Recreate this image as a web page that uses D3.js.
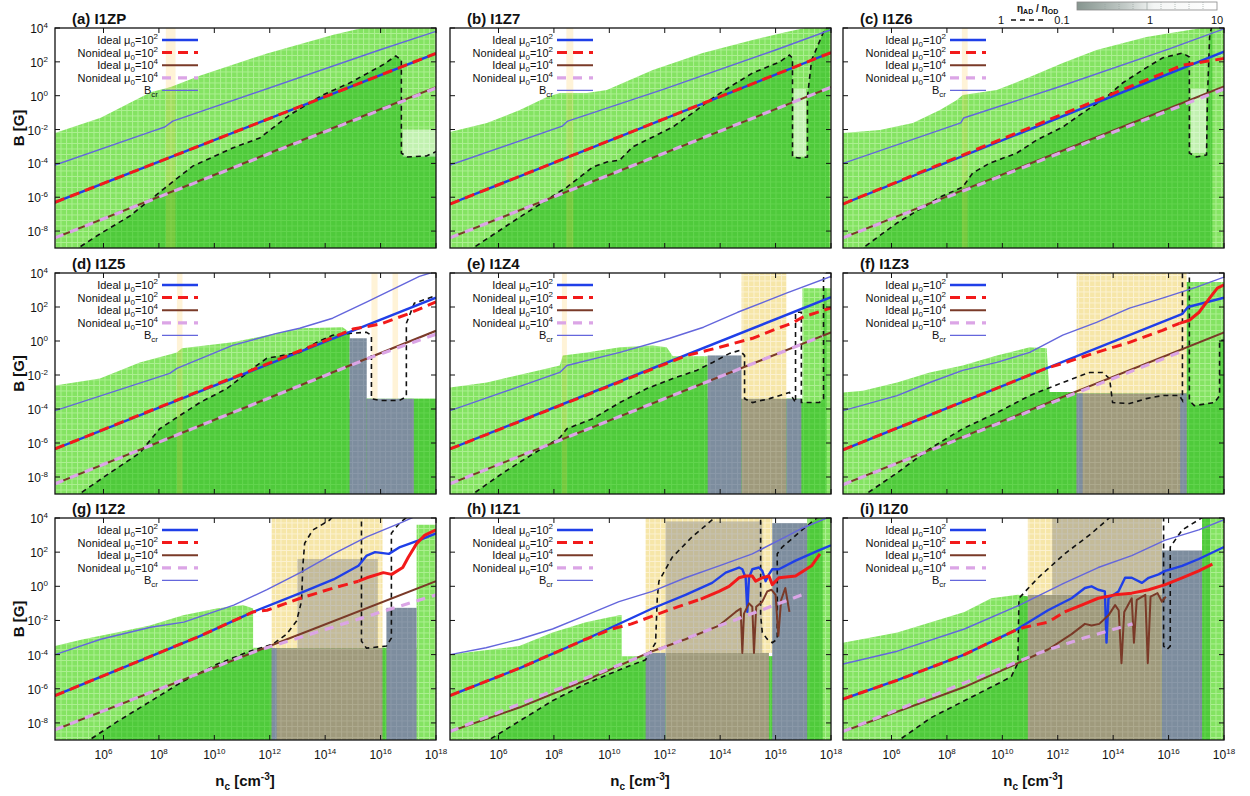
<!DOCTYPE html>
<html><head><meta charset="utf-8">
<script src="https://cdn.jsdelivr.net/npm/d3@7"></script>
<style>body{margin:0;background:#fff;} svg{display:block;font-family:"Liberation Sans",Arial,Helvetica,sans-serif;}</style>
</head><body><svg id="chart" width="1250" height="796"></svg>
<script>
// ---------------- DATA (log10 n_c, log10 B) ----------------
const panelTitles = ["(a) I1ZP","(b) I1Z7","(c) I1Z6","(d) I1Z5","(e) I1Z4","(f) I1Z3","(g) I1Z2","(h) I1Z1","(i) I1Z0"];
const xTickExps = [6,8,10,12,14,16,18];
const yTickExps = [4,2,0,-2,-4,-6,-8];
const logNDomain = [4.25, 18];
const logBDomain = [-9, 4];
const legendNames = ["Ideal","Nonideal","Ideal","Nonideal","B"];
const legendMuExp = ["2","2","4","4",""];
const colorbarTicks = ["0.1","1","10"];

// upper edge of the light-green (computed) region
const greenTop = [
 [[4.25,-2.2],[5.9,-1.3],[7.7,0.2],[8.4,0.5],[9.5,1.2],[11.9,2.5],[14.3,3.6],[15.6,4.1],[18,4.1]],
 [[4.25,-2.15],[5.58,-1.61],[6.77,-0.85],[7.75,-0.08],[8.21,0.16],[9.19,0.16],[9.91,0.34],[11.57,1.52],[13.37,2.52],[15.17,3.29],[16.39,3.76],[17.33,4.1],[18,4.1]],
 [[4.25,-2.21],[5.58,-2.03],[6.77,-1.61],[7.75,-0.85],[8.36,-0.26],[8.57,0.04],[9.8,0.34],[10.99,1.1],[12.18,1.93],[13.4,2.7],[15.2,3.47],[16.75,3.88],[17.58,4.1],[18,4.1]],
 [[4.25,-2.62],[5.87,-2.21],[7.31,-1.26],[8.65,-0.67],[8.83,-0.43],[10.66,-0.08],[11.89,0.34],[13.08,0.75],[14.63,0.81],[14.88,0.51],[14.88,-3.4],[18,-3.4]],
 [[4.25,-2.74],[5.58,-2.44],[7.13,-1.85],[8.21,-1.44],[8.32,-0.85],[9.19,-0.67],[10.38,-0.37],[11.57,-0.26],[12.07,-0.37],[12.29,-0.9],[13.55,-0.9],[13.55,-3.4],[16.97,-3.4],[16.97,3.1],[18,3.1]],
 [[4.25,-3.03],[4.97,-2.92],[6.2,-2.44],[7.38,-1.85],[8.57,-1.44],[9.8,-0.85],[10.99,-0.37],[11.6,-0.43],[11.7,-3.0],[16.65,-3.0],[16.65,3.47],[18,3.47]],
 [[4.25,-3.5],[5.27,-3.1],[6.47,-2.7],[7.67,-2.3],[8.87,-1.7],[10.08,-1.3],[11.04,-1.1],[11.4,-1.3],[11.4,-3.6],[17.3,-3.6],[17.3,3.6],[18,3.6]],
 [[4.25,-4.0],[6.75,-3.5],[7.95,-2.7],[9.15,-2.1],[10.35,-1.7],[10.45,-1.7],[10.45,-4.1],[17.14,-4.1],[17.14,4.1],[18,4.1]],
 [[4.25,-3.3],[6.21,-2.7],[8.63,-1.5],[9.6,-0.7],[10.56,-0.5],[10.92,-0.6],[10.92,-4.0],[17.21,-4.0],[17.21,4.1],[18,4.1]]
];

// eta_AD / eta_OD = 1 contour
const contourOne = [
 [[4.9,-9.2],[5.87,-8.17],[6.95,-7.11],[7.67,-6.17],[8.21,-5.46],[9.22,-4.16],[10.66,-3.09],[11.64,-2.5],[12.72,-1.14],[13.91,0.04],[14.88,0.75],[16.07,1.81],[16.55,2.35],[16.75,2.11],[16.75,-3.39],[16.97,-3.62],[17.66,-3.56],[18.05,-3.27]],
 [[4.9,-9.2],[6.77,-7.17],[8.47,-5.4],[9.4,-4.22],[9.91,-3.92],[10.38,-3.8],[10.84,-3.03],[11.57,-2.44],[12.29,-1.85],[13.15,-0.85],[13.62,-0.26],[14.34,0.51],[15.17,1.34],[16.14,1.99],[16.5,2.4],[16.61,2.23],[16.61,-3.62],[16.86,-3.68],[17.15,-3.62],[17.15,-0.08],[17.3,2.1],[17.76,3.88],[17.94,4.3]],
 [[4.8,-9.2],[6.2,-7.52],[7.75,-5.99],[8.57,-5.4],[8.93,-4.57],[9.55,-3.98],[10.52,-3.39],[11.24,-2.62],[12.18,-1.85],[12.9,-1.02],[13.76,-0.08],[14.34,0.75],[15.06,1.52],[15.78,2.23],[16.5,2.52],[16.75,2.29],[16.75,-3.39],[17.01,-3.62],[17.37,-3.5],[17.4,-0.26],[17.48,3.47],[17.58,4.3]],
 [[4.95,-9.2],[6.23,-7.76],[7.31,-6.58],[8.03,-5.16],[8.75,-4.39],[9.48,-3.62],[10.45,-2.8],[11.39,-1.61],[11.89,-1.02],[13.08,-0.67],[13.69,-0.08],[14.27,0.34],[14.88,0.45],[15.49,0.51],[15.67,0.34],[15.67,-3.39],[15.96,-3.5],[16.68,-3.5],[16.93,-3.27],[16.93,1.04],[17.22,2.23],[18.05,2.7]],
 [[4.9,-9.2],[6.16,-7.76],[7.13,-6.76],[8.21,-5.69],[8.47,-5.16],[9.4,-4.57],[10.38,-3.62],[11.35,-2.8],[12.29,-2.21],[13.15,-1.73],[13.73,-1.26],[14.34,-0.73],[14.7,-0.55],[14.88,-0.85],[14.88,-3.39],[15.17,-3.62],[15.78,-3.39],[16.5,-3.03],[16.72,-3.62],[16.72,1.69],[16.93,1.69],[16.93,-3.62],[17.58,-3.62],[17.73,-3.39],[17.73,3.7],[17.84,4.3]],
 [[4.9,-9.2],[6.2,-7.76],[7.38,-6.34],[8.57,-5.16],[9.8,-4.22],[10.99,-3.21],[12.18,-2.44],[13.15,-1.85],[13.62,-1.85],[13.87,-2.21],[13.98,-3.62],[14.59,-3.68],[15.2,-3.39],[15.78,-3.21],[16.39,-3.21],[16.5,-3.5],[16.5,4.3],[16.75,4.3],[16.75,-3.5],[16.93,-3.8],[17.66,-3.62],[17.84,-3.21],[17.84,0.04],[18.05,0.04]],
 [[5.3,-9.2],[6.48,-7.94],[7.67,-6.76],[8.86,-5.57],[10.09,-4.57],[11.28,-3.8],[12.11,-3.39],[12.61,-2.8],[12.97,-2.03],[13.15,-0.85],[13.19,1.1],[13.26,2.52],[13.55,3.29],[14.16,3.88],[14.4,4.3],[15.31,4.3],[15.31,-3.21],[15.49,-3.62],[16.21,-3.5],[16.39,-3.03],[16.39,3.11],[16.68,3.7],[17.15,4.3]],
 [[5.45,-9.2],[6.75,-7.9],[7.95,-6.7],[9.15,-5.7],[10.35,-4.9],[11.31,-4.3],[11.67,-3.3],[11.73,-0.7],[11.79,0.3],[12.27,1.7],[12.99,2.9],[13.72,3.9],[13.96,4.3],[15.46,4.3],[15.46,-1.7],[15.52,-2.7],[15.7,-3.1],[15.88,-3.3],[16.06,-3.1],[16.06,1.9],[16.24,2.3],[16.96,3.3],[17.56,4.1],[17.7,4.3]],
 [[6.1,-9.2],[7.42,-7.7],[8.63,-6.7],[9.6,-5.9],[10.32,-5.3],[10.56,-4.5],[10.6,-0.7],[11.29,0.5],[12.25,1.9],[13.22,3.1],[14.07,4.3],[15.82,4.3],[15.82,-3.5],[15.94,-3.7],[16.06,-3.5],[16.06,2.3],[16.49,3.3],[17.09,3.9],[17.5,4.3]]
];

// shaded blocks: [logn0, logn1, logB0, logB1]
const paleBlocks = [[[16.8,18,-3.6,-2.0]],[[16.65,17.1,-3.6,0.4]],[[16.8,17.35,-3.4,0.4]],[],[],[],[],[],[]];
const yellowStrips = [[[8.25,8.6]],[[8.45,8.7]],[[8.54,8.75]],[[8.65,8.85],[15.67,15.89],[16.43,16.63]],[[8.29,8.47]],[],[],[],[]];
const yellowBlocks = [[],[],[],[],[[14.77,16.39,-3.4,4.2]],[[12.68,16.65,-3.09,4.2]],[[12.07,16.07,-3.62,4.2]],[[11.31,15.88,-3.9,4.2]],[[10.92,15.76,-0.5,4.2]]];
const tanBlocks = [[],[],[],[],[],[],[[13.0,15.9,-3.62,1.6]],[[12.03,15.52,-3.9,3.8]],[[11.8,15.76,-0.5,4.2]]];
const oliveBlocks = [[],[],[],[],[[14.77,16.39,-9.5,-3.4]],[[12.68,16.65,-9.5,-3.09]],[[12.07,16.07,-9.5,-3.62]],[[12.03,15.76,-9.5,-3.9]],[[10.92,15.76,-9.5,-0.5]]];
const grayBlocks = [[],[],[],[[14.88,15.5,-9.5,0.16],[15.5,17.2,-9.5,-3.4]],[[13.55,14.77,-9.5,-0.85],[16.39,16.93,-9.5,-3.4]],[[12.68,12.9,-9.5,-3.09],[16.42,16.65,-9.5,-3.09]],[[12.07,12.25,-9.5,-3.62],[16.21,17.3,-9.5,-1.26]],[[11.31,12.03,-9.5,-3.9],[15.88,17.14,-9.5,3.7]],[[15.76,17.21,-9.5,2.1]]];

// Ideal mu0=10^2
const idealMu2 = [
 [[4.25,-6.3],[18,2.5]],
 [[4.25,-6.4],[18,2.55]],
 [[4.25,-6.4],[18,2.6]],
 [[4.25,-6.35],[18,2.55]],
 [[4.25,-6.35],[18,2.58]],
 [[4.25,-6.4],[16.5,1.6],[16.7,2.0],[18,2.55]],
 [[4.25,-6.4],[7.7,-4.1],[9.5,-2.9],[11.4,-1.5],[13.1,-0.4],[14.3,0.4],[15.2,1.2],[15.5,1.8],[15.8,2.0],[16.3,1.9],[16.7,2.3],[17.4,2.7],[18,3.1]],
 [[4.25,-6.4],[6.75,-4.8],[9.15,-3.1],[11.55,-1.3],[12.75,-0.5],[13.71,0.2],[14.2,0.8],[14.68,1.1],[14.8,1.0],[14.92,0.5],[14.98,-1.5],[15.04,0.5],[15.16,1.0],[15.4,1.1],[15.52,0.9],[15.64,0.3],[15.76,0.7],[15.88,1.0],[16.12,1.0],[16.72,1.5],[17.56,2.1],[18,2.4]],
 [[4.25,-6.6],[6.21,-5.5],[8.63,-4.0],[10.44,-2.6],[11.65,-1.4],[12.5,-0.7],[12.98,-0.1],[13.22,0.0],[13.46,-0.2],[13.7,-0.3],[13.76,-3.3],[13.83,-0.7],[14.19,-0.3],[14.43,0.5],[14.67,0.5],[15.04,0.2],[15.28,0.5],[15.64,0.7],[15.88,0.9],[16.49,1.2],[17.09,1.6],[18,2.3]]
];
// Nonideal mu0=10^2 (dashed part, and part drawn solid)
const nonidealMu2Dashed = [
 [[4.25,-6.3],[18,2.5]],
 [[4.25,-6.4],[18,2.55]],
 [[4.25,-6.4],[16.5,1.8],[18,2.2]],
 [[4.25,-6.35],[14.2,0.15],[15.0,0.7],[16.0,1.0],[17.0,1.6],[18,2.3]],
 [[4.25,-6.35],[12.8,-0.85],[13.98,-0.37],[15.17,0.16],[16.0,0.7],[16.6,1.05],[16.97,1.4],[18,1.95]],
 [[4.25,-6.4],[11.6,-1.6],[12.18,-1.32],[13.4,-0.67],[14.59,-0.08],[15.78,0.63],[16.39,1.04]],
 [[4.25,-6.4],[7.7,-4.1],[9.5,-2.9],[11.4,-1.5],[11.9,-1.4],[13.1,-0.7],[14.3,-0.1],[15.2,0.3]],
 [[4.25,-6.4],[6.75,-4.8],[9.15,-3.1],[10.1,-2.5],[10.8,-2.2],[11.55,-1.75],[12.3,-1.3],[12.75,-1.05],[13.3,-0.75]],
 [[4.25,-6.6],[6.21,-5.5],[8.63,-4.0],[10.44,-2.6],[10.8,-2.4],[11.65,-2.1],[12.25,-1.5]]
];
const nonidealMu2Solid = [
 [],[],[],[],[],
 [[16.39,1.04],[16.75,1.22],[17.1,1.69],[17.48,2.52],[17.76,3.11],[18,3.3]],
 [[15.2,0.3],[15.5,0.5],[16.1,0.8],[16.4,0.7],[16.8,1.1],[17.0,1.7],[17.3,2.5],[17.6,3.0],[18,3.3]],
 [[13.3,-0.75],[13.96,-0.3],[14.32,0],[14.68,0.5],[14.92,0.6],[15.16,0.6],[15.28,0.3],[15.52,0.5],[15.76,0.6],[15.88,0.1],[16.12,0.5],[16.72,0.6],[17.3,1.2],[17.6,1.9]],
 [[12.25,-1.5],[12.86,-1.1],[13.46,-0.7],[14.07,-0.5],[14.67,-0.4],[15.28,-0.2],[15.88,0.1],[16.49,0.5],[17.09,0.9],[17.58,1.3]]
];
// Ideal mu0=10^4
const idealMu4 = [
 [[4.25,-8.4],[18,0.5]],
 [[4.25,-8.4],[18,0.5]],
 [[4.25,-8.4],[18,0.55]],
 [[4.25,-8.4],[18,0.6]],
 [[4.25,-8.4],[18,0.5]],
 [[4.25,-8.45],[18,0.5]],
 [[4.25,-8.4],[18,0.3]],
 [[4.25,-8.5],[6.75,-7.1],[9.15,-5.5],[11.55,-3.8],[12.75,-3.1],[13.96,-2.3],[14.56,-1.5],[14.74,-1.3],[14.8,-3.9],[14.86,-1.6],[15.04,-1.0],[15.16,-1.2],[15.22,-3.9],[15.3,-1.2],[15.52,-0.9],[15.7,-0.3],[15.85,-0.2],[16.0,-0.5],[16.1,-2.9],[16.2,-0.8],[16.35,-0.1],[16.5,-1.5]],
 [[4.25,-8.5],[8.63,-5.9],[10.56,-4.5],[11.65,-3.7],[12.5,-2.8],[12.98,-2.2],[13.22,-2.3],[13.5,-2.2],[13.83,-1.7],[14.07,-1.1],[14.2,-1.4],[14.3,-4.5],[14.4,-1.5],[14.67,-0.7],[14.75,-3.3],[14.85,-0.8],[15.16,-0.5],[15.25,-4.5],[15.35,-0.6],[15.6,-0.4],[15.76,-0.9],[15.9,-0.6]]
];
// Nonideal mu0=10^4
const nonidealMu4 = [
 [[4.25,-8.4],[18,0.45]],
 [[4.25,-8.4],[18,0.5]],
 [[4.25,-8.4],[18,0.4]],
 [[4.25,-8.4],[15.5,-1.05],[18,0.4]],
 [[4.25,-8.4],[17.7,0.3]],
 [[4.25,-8.45],[16.5,-0.6]],
 [[4.25,-8.4],[11.5,-3.8],[18,-0.5]],
 [[4.25,-8.5],[11.3,-4.0],[13.5,-2.6],[15.3,-1.5],[16.96,-0.5]],
 [[4.25,-8.5],[11.5,-3.8],[13.0,-3.0],[14.7,-2.2]]
];
// critical field B_cr
const bCritical = [
 [[4.25,-4.1],[7.67,-2.15],[8.21,-1.85],[8.5,-1.5],[15.96,2.7],[18,3.8]],
 [[4.25,-4.1],[8.3,-1.8],[8.5,-1.5],[12,0.4],[16,2.7],[18,3.9]],
 [[4.25,-4.0],[8.5,-1.61],[8.6,-1.32],[12,0.5],[16,2.75],[18,3.95]],
 [[4.25,-4.1],[8.39,-1.9],[8.65,-1.61],[10.66,-0.26],[12.25,0.45],[13.08,0.75],[14.27,1.34],[15.49,2.29],[17.4,3.8],[18,4.1]],
 [[4.25,-4.1],[8.21,-1.85],[8.47,-1.44],[10.38,-0.67],[12.18,0.16],[13.4,0.81],[14.63,1.69],[16.39,2.82],[18,3.8]],
 [[4.25,-4.1],[6.2,-3.21],[7.38,-2.44],[8.57,-1.73],[9.8,-1.26],[10.99,-0.67],[12.18,0.34],[13.4,1.1],[14.59,1.93],[15.78,2.52],[17.01,3.17],[18,3.76]],
 [[4.25,-4.0],[5.9,-3.1],[7.7,-2.4],[8.9,-2.1],[10.7,-1.1],[11.9,-0.2],[13.1,0.8],[14.3,1.9],[15.5,2.9],[16.7,3.7],[17.4,4.2]],
 [[4.25,-4.0],[5.55,-3.6],[6.75,-3.1],[7.95,-2.5],[9.15,-1.7],[10.35,-0.9],[11.55,-0.3],[12.75,0.5],[13.96,1.2],[15.16,1.9],[16.36,2.9],[16.96,3.4],[18,4.1]],
 [[4.25,-4.55],[6.21,-3.8],[8.63,-2.5],[10.62,-1.1],[12.25,0.2],[13.46,1.1],[14.67,1.8],[15.88,2.7],[17.09,3.3],[18,3.9]]
];

// ---------------- LAYOUT / STYLE ----------------
const colLeft = [55, 450, 843];
const rowTop = [28, 273, 518];
const panelW = 381;
const rowH = [220, 221, 222];
const lineStyles = [
  {color:"#1f3fe8", w:2.4, dash:null},
  {color:"#f21a1a", w:3.0, dash:"10,6"},
  {color:"#7a3a28", w:2.0, dash:null},
  {color:"#dba5e6", w:3.2, dash:"9,7"},
  {color:"#6466dc", w:1.4, dash:null}
];

const svg = d3.select("#chart");
const defs = svg.append("defs");
function makePattern(id, bg, line) {
  const p = defs.append("pattern").attr("id", id).attr("patternUnits","userSpaceOnUse")
    .attr("width",5.5).attr("height",5.5);
  p.append("rect").attr("width",5.5).attr("height",5.5).attr("fill",bg);
  p.append("path").attr("d","M0,0.5H5.5M0.5,0V5.5").attr("stroke",line).attr("stroke-width",1).attr("fill","none");
}
makePattern("patLight","#84e362","#adf092");
makePattern("patDark","#4fca3b","#62d44e");
makePattern("patYellow","#f6e6a8","#fcf2d2");
makePattern("patOlive","#9f9a7c","#aeaa8e");
makePattern("patGray","#7d8d9e","#8a98a8");

const supText = (sel, base, exp, size) => {
  sel.append("tspan").text(base);
  sel.append("tspan").attr("dy", -5).attr("font-size", size).text(exp);
};

panelTitles.forEach((title, k) => {
  const col = k % 3, row = Math.floor(k / 3);
  const L = colLeft[col], T = rowTop[row], W = panelW, H = rowH[row];
  const x = d3.scaleLog().domain([10**logNDomain[0], 10**logNDomain[1]]).range([L, L+W]);
  const y = d3.scaleLog().domain([10**logBDomain[0], 10**logBDomain[1]]).range([T+H, T]);
  const px = d => x(10**d[0]), py = d => y(10**d[1]);
  const line = d3.line().x(px).y(py);

  defs.append("clipPath").attr("id","clip"+k).append("rect").attr("x",L).attr("y",T).attr("width",W).attr("height",H);
  const gt = greenTop[k];
  const greenPoly = gt.concat([[gt[gt.length-1][0],-9.6],[gt[0][0],-9.6]]);
  const greenPath = line(greenPoly) + "Z";
  defs.append("clipPath").attr("id","gclip"+k).append("path").attr("d", greenPath);

  const g = svg.append("g").attr("clip-path","url(#clip"+k+")");
  g.append("rect").attr("x",L).attr("y",T).attr("width",W).attr("height",H).attr("fill","#fff");
  g.append("path").attr("d", greenPath).attr("fill","url(#patLight)");
  const ct = contourOne[k];
  const darkPoly = ct.concat([[ct[ct.length-1][0],-9.6],[ct[0][0],-9.6]]);
  g.append("g").attr("clip-path","url(#gclip"+k+")")
    .append("path").attr("d", line(darkPoly)+"Z").attr("fill","url(#patDark)");

  const rectOf = (sel, b) => sel.attr("x", x(10**b[0])).attr("width", x(10**b[1]) - x(10**b[0]))
      .attr("y", y(10**b[3])).attr("height", y(10**b[2]) - y(10**b[3]));
  paleBlocks[k].forEach(b => rectOf(g.append("rect"), b).attr("fill","#ffffff").attr("opacity",0.5));
  yellowStrips[k].forEach(s => rectOf(g.append("rect"), [s[0], s[1], -9.6, 4.2]).attr("fill","#ffc84a").attr("opacity",0.22));
  yellowBlocks[k].forEach(b => rectOf(g.append("rect"), b).attr("fill","url(#patYellow)"));
  tanBlocks[k].forEach(b => rectOf(g.append("rect"), b).attr("fill","#7f8186").attr("opacity",0.42));
  oliveBlocks[k].forEach(b => rectOf(g.append("rect"), b).attr("fill","url(#patOlive)"));
  grayBlocks[k].forEach(b => rectOf(g.append("rect"), b).attr("fill","url(#patGray)"));

  g.append("path").attr("d", line(ct)).attr("fill","none").attr("stroke","#111")
    .attr("stroke-width",1.6).attr("stroke-dasharray","5,4");

  const drawSeries = (pts, st, dashOverride) => {
    if (!pts.length) return;
    const p = g.append("path").attr("d", line(pts)).attr("fill","none").attr("stroke", st.color)
      .attr("stroke-width", st.w).attr("stroke-linejoin","round");
    const dsh = dashOverride === undefined ? st.dash : dashOverride;
    if (dsh) p.attr("stroke-dasharray", dsh);
  };
  drawSeries(idealMu2[k], lineStyles[0]);
  drawSeries(nonidealMu2Dashed[k], lineStyles[1]);
  drawSeries(nonidealMu2Solid[k], lineStyles[1], null);
  drawSeries(idealMu4[k], lineStyles[2]);
  drawSeries(nonidealMu4[k], lineStyles[3]);
  drawSeries(bCritical[k], lineStyles[4]);

  // frame
  svg.append("rect").attr("x",L).attr("y",T).attr("width",W).attr("height",H)
    .attr("fill","none").attr("stroke","#111").attr("stroke-width",1.3);
  // ticks (inward, all sides)
  const tk = svg.append("g").attr("stroke","#111").attr("stroke-width",1);
  xTickExps.forEach(e => {
    const xx = x(10**e);
    tk.append("line").attr("x1",xx).attr("x2",xx).attr("y1",T+H).attr("y2",T+H-5);
    tk.append("line").attr("x1",xx).attr("x2",xx).attr("y1",T).attr("y2",T+5);
  });
  yTickExps.forEach(e => {
    const yy = y(10**e);
    tk.append("line").attr("x1",L).attr("x2",L+5).attr("y1",yy).attr("y2",yy);
    tk.append("line").attr("x1",L+W).attr("x2",L+W-5).attr("y1",yy).attr("y2",yy);
  });
  // tick labels
  if (col === 0) {
    yTickExps.forEach(e => {
      const t = svg.append("text").attr("x", L-7).attr("y", y(10**e)+5).attr("text-anchor","end")
        .attr("font-size",12).attr("fill","#111");
      supText(t, "10", String(e), 8);
    });
  }
  if (row === 2) {
    xTickExps.forEach(e => {
      const t = svg.append("text").attr("x", x(10**e)).attr("y", T+H+19).attr("text-anchor","middle")
        .attr("font-size",12).attr("fill","#111");
      supText(t, "10", String(e), 8);
    });
  }
  // title
  svg.append("text").attr("x", L+17).attr("y", T-4).attr("font-size",15).attr("font-weight","bold")
    .attr("fill","#111").text(title);
  // legend
  legendNames.forEach((nm, i) => {
    const cy = T + 12 + i*12.6;
    const t = svg.append("text").attr("x", L+103).attr("y", cy+4).attr("text-anchor","end")
      .attr("font-size",11).attr("fill","#111");
    if (i < 4) {
      t.append("tspan").text(nm + " \u03bc");
      t.append("tspan").attr("dy",3).attr("font-size",8).text("0");
      t.append("tspan").attr("dy",-3).text("=10");
      t.append("tspan").attr("dy",-5).attr("font-size",8).text(legendMuExp[i]);
    } else {
      t.append("tspan").text(nm);
      t.append("tspan").attr("dy",3).attr("font-size",8).text("cr");
    }
    const st = lineStyles[i];
    const ln = svg.append("line").attr("x1",L+107).attr("x2",L+143).attr("y1",cy).attr("y2",cy)
      .attr("stroke", st.color).attr("stroke-width", st.w);
    if (st.dash) ln.attr("stroke-dasharray", st.dash);
  });
});

// axis titles
rowTop.forEach((T, r) => {
  const cy = T + rowH[r]/2 - 10;
  const t = svg.append("text").attr("transform", `translate(24,${cy}) rotate(-90)`).attr("text-anchor","middle")
    .attr("font-size",15).attr("font-weight","bold").attr("fill","#111");
  t.append("tspan").text("B [G]");
});
colLeft.forEach(L => {
  const t = svg.append("text").attr("x", L+190).attr("y", 786).attr("text-anchor","middle")
    .attr("font-size",15).attr("font-weight","bold").attr("fill","#111");
  t.append("tspan").text("n");
  t.append("tspan").attr("dy",4).attr("font-size",10).text("c");
  t.append("tspan").attr("dy",-4).text(" [cm");
  t.append("tspan").attr("dy",-6).attr("font-size",10).text("-3");
  t.append("tspan").attr("dy",6).text("]");
});

// colour bar legend (eta_AD / eta_OD)
const grad = defs.append("linearGradient").attr("id","cbGrad");
grad.append("stop").attr("offset","0%").attr("stop-color","#86958f");
grad.append("stop").attr("offset","35%").attr("stop-color","#c3cbc8");
grad.append("stop").attr("offset","55%").attr("stop-color","#f4f6f5");
grad.append("stop").attr("offset","100%").attr("stop-color","#ffffff");
svg.append("rect").attr("x",1077).attr("y",2).attr("width",140).attr("height",8)
  .attr("fill","url(#cbGrad)").attr("stroke","#888").attr("stroke-width",0.8);
d3.range(1, 10).forEach(i => {
  svg.append("line").attr("x1",1077+i*14).attr("x2",1077+i*14).attr("y1",2).attr("y2",10)
    .attr("stroke","#9aa5a2").attr("stroke-width",0.7).attr("stroke-dasharray", i===5 ? null : "1,1");
});
const cbt = svg.append("text").attr("x",1017).attr("y",12).attr("font-size",10).attr("font-weight","bold").attr("fill","#111");
cbt.append("tspan").text("\u03b7");
cbt.append("tspan").attr("dy",2).attr("font-size",7).text("AD");
cbt.append("tspan").attr("dy",-2).text(" / \u03b7");
cbt.append("tspan").attr("dy",2).attr("font-size",7).text("OD");
svg.append("text").attr("x",1001).attr("y",24).attr("text-anchor","middle").attr("font-size",11).attr("fill","#111").text("1");
svg.append("line").attr("x1",1011).attr("x2",1043).attr("y1",20).attr("y2",20).attr("stroke","#111")
  .attr("stroke-width",1.4).attr("stroke-dasharray","5,4");
const cbPos = [1062, 1150, 1217];
colorbarTicks.forEach((lab, i) => {
  svg.append("text").attr("x",cbPos[i]).attr("y",24).attr("text-anchor","middle").attr("font-size",11).attr("fill","#111").text(lab);
});
</script></body></html>
